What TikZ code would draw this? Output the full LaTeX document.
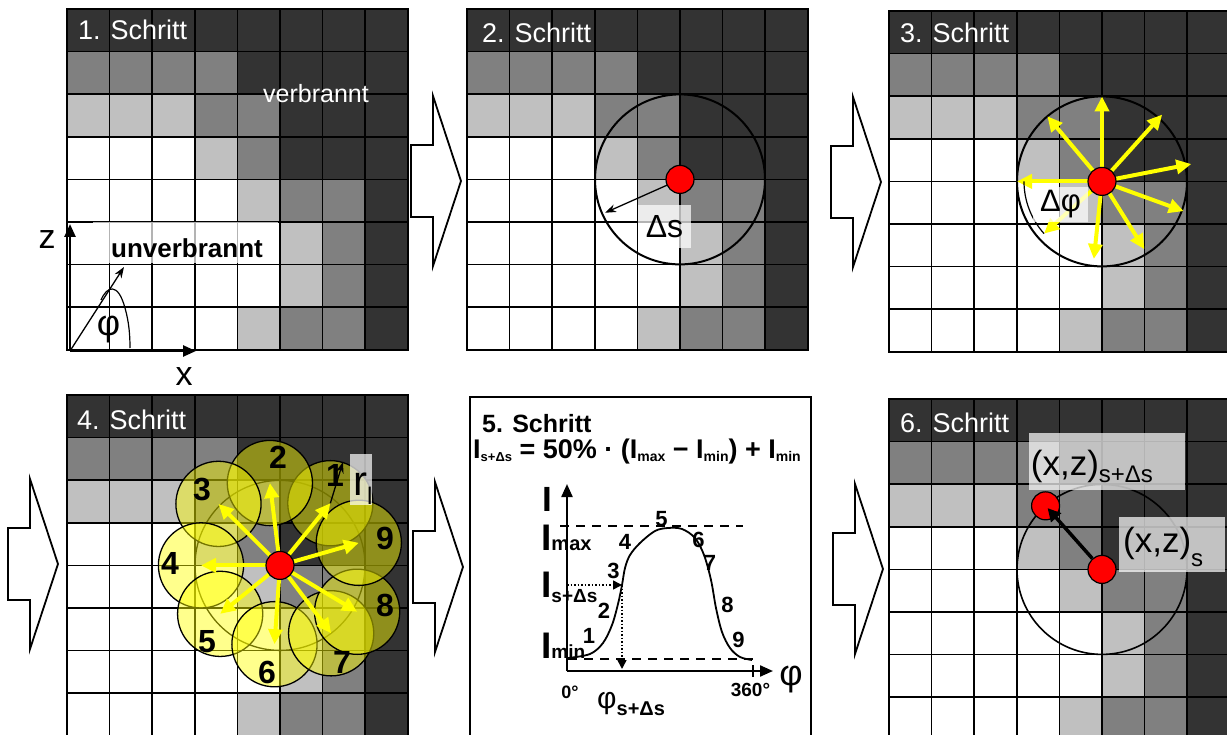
\documentclass[tikz,border=0pt]{standalone}
\usepackage{fontspec}
\setmainfont{Liberation Sans}
\usetikzlibrary{arrows.meta}

\definecolor{dunkel}{HTML}{333333}
\definecolor{mittel}{HTML}{808080}
\definecolor{hell}{HTML}{C0C0C0}
\definecolor{weiss}{HTML}{FFFFFF}
\definecolor{gelb}{HTML}{FFFF00}
\definecolor{rot}{HTML}{FF0000}

\newcommand{\schrift}[1]{\fontsize{#1}{#1}\selectfont}
\newcommand{\zelle}{42.6}
% 8x8 Zellen, Ursprung oben links
\newcommand{\gitter}{%
  \foreach \zeile [count=\zeilenr from 0] in {%
      {dunkel,dunkel,dunkel,dunkel,dunkel,dunkel,dunkel,dunkel},
      {mittel,mittel,mittel,mittel,dunkel,dunkel,dunkel,dunkel},
      {hell,hell,hell,mittel,mittel,dunkel,dunkel,dunkel},
      {weiss,weiss,weiss,hell,mittel,dunkel,dunkel,dunkel},
      {weiss,weiss,weiss,weiss,hell,mittel,mittel,dunkel},
      {weiss,weiss,weiss,weiss,weiss,hell,mittel,dunkel},
      {weiss,weiss,weiss,weiss,weiss,hell,mittel,dunkel},
      {weiss,weiss,weiss,weiss,hell,mittel,mittel,dunkel}}
    \foreach \farbe [count=\spaltenr from 0] in \zeile
      \fill[\farbe] (\spaltenr*\zelle,\zeilenr*\zelle) rectangle ++(\zelle,\zelle);
  \foreach \i in {0,...,8} {
    \draw[gitterlinie] (\i*\zelle,0) -- (\i*\zelle,8*\zelle);
    \draw[gitterlinie] (0,\i*\zelle) -- (8*\zelle,\i*\zelle);
  }%
}

\tikzset{
  gitterlinie/.style = {line width=1.6pt, line cap=rect, black},
  kreis/.style       = {line width=2pt, black},
  punkt/.style       = {circle, fill=rot, draw=black, line width=1.2pt,
                        minimum size=28pt, inner sep=0pt},
  gelbpfeil/.style   = {-{Triangle[length=15pt,width=14pt]}, draw=gelb, line width=4pt},
  duennpfeil/.style  = {-{Stealth[length=11pt,width=8pt]}, line width=1.3pt},
  dickpfeil/.style   = {-{Triangle[length=13pt,width=13pt]}, line width=3.5pt},
  achse/.style       = {-{Triangle[length=13pt,width=11pt]}, line width=2.5pt},
  duenn/.style       = {line width=1.2pt},
  kleinkreis/.style  = {fill=gelb, fill opacity=0.45, draw=black, line width=1.3pt},
  pfeilrand/.style   = {draw=black, fill=white, line width=1.8pt, line join=miter},
  titel/.style       = {white, font=\schrift{27}, inner sep=0pt, anchor=base west},
  schleier/.style    = {fill=white, fill opacity=0.7, text opacity=1, inner sep=0pt},
  zahl/.style        = {font=\schrift{32}\bfseries, inner sep=0pt},
  zahlfuenf/.style   = {font=\schrift{22}\bfseries, inner sep=0pt},
  strichlinie/.style = {line width=1.5pt, dash pattern=on 9pt off 7pt},
  punktpfeil/.style  = {-{Triangle[length=9pt,width=9pt]}, line width=1.5pt,
                        dash pattern=on 1.5pt off 2pt},
  blockpfeil/.pic    = {\draw[pfeilrand] (0,-36) -- (22,-36) -- (22,-85) -- (50,0)
                        -- (22,85) -- (22,36) -- (0,36) -- cycle;}
}

\begin{document}
\begin{tikzpicture}[x=1pt, y=-1pt]
  \useasboundingbox (0,0) rectangle (1227,735);
  \clip (0,0) rectangle (1227,735);
  \fill[white] (0,0) rectangle (1227,735);

  % Pfeile zwischen den Schritten
  \pic (pfeilA) at (411,181) {blockpfeil};
  \pic (pfeilB) at (831,182) {blockpfeil};
  \pic (pfeilC) at (8,564) {blockpfeil};
  \pic (pfeilD) at (413,567) {blockpfeil};
  \pic (pfeilE) at (833,569) {blockpfeil};

  % 1. Schritt
  \begin{scope}[shift={(67,9)}]
    \gitter
  \end{scope}
  \node[titel] (titel1) at (78,40) {1. Schritt};
  \node[anchor=base west, white, inner sep=0pt, font=\schrift{25}] (verbrannt) at (263,103) {verbrannt};
  \node[schleier, minimum width=185pt, minimum height=41pt] (schleier1) at (185.5,242.5) {};
  \node[font=\schrift{26}\bfseries, inner sep=0pt] (unverbrannt) at (187,248.5) {unverbrannt};
  \coordinate (ursprung) at (70,351);
  \coordinate (zspitze) at (70,224);
  \coordinate (xspitze) at (196,351);
  \coordinate (richtung) at (124,267);
  \draw[achse] (ursprung) -- (zspitze);
  \draw[achse] (ursprung) -- (xspitze);
  \draw[duennpfeil] (ursprung) -- (richtung);
  \draw[duenn] (101,300) .. controls (107,286) and (118,282) .. (125,308)
               .. controls (129,322) and (130,335) .. (130,348);
  \node[font=\schrift{36}, inner sep=0pt] (phi1) at (108.5,330) {φ};
  \node[font=\schrift{34}, inner sep=0pt] (zlabel) at (47,240) {z};
  \node[font=\schrift{34}, inner sep=0pt] (xlabel) at (184,377) {x};

  % 2. Schritt
  \begin{scope}[shift={(467,9)}]
    \gitter
    \coordinate (m2) at (5*\zelle,4*\zelle);
  \end{scope}
  \node[titel] (titel2) at (482,42.7) {2. Schritt};
  \draw[kreis] (m2) circle[radius=85];
  \draw[duennpfeil] (m2) -- ++(156:82) coordinate (rand2);
  \node[punkt] (p2) at (m2) {};
  \node[schleier, minimum width=53pt, minimum height=43pt, font=\schrift{32}] (ds) at (664.5,226.5) {Δs};

  % 3. Schritt
  \begin{scope}[shift={(889,11)}]
    \gitter
    \coordinate (m3) at (5*\zelle,4*\zelle);
  \end{scope}
  \node[titel] (titel3) at (900,42.7) {3. Schritt};
  \draw[kreis] (m3) circle[radius=85];
  \foreach \w/\l in {-90/85, -130/85, -48/90, -11/91, 20/87, 58/80, 96/78, 138/78, 180/85}
    \draw[gelbpfeil] (m3) -- ++(\w:\l);
  \draw[duenn] (m3) ++(180:78) arc[start angle=180, end angle=138, radius=78];
  \node[schleier, minimum width=55pt, minimum height=35pt, font=\schrift{31}] (dphi) at (1060.5,204.5) {Δφ};
  \node[punkt] (p3) at (m3) {};

  % 4. Schritt
  \begin{scope}[shift={(67,395)}]
    \gitter
    \coordinate (m4) at (5*\zelle,4*\zelle);
  \end{scope}
  \node[titel] (titel4) at (77,429.3) {4. Schritt};
  \draw[kreis, line width=1.3pt] (m4) circle[radius=85];
  \foreach \n/\w/\d in {1/-51/80, 2/-97/83, 3/-135/87, 4/180/79, 5/141/77,
                        6/94/79, 7/53/85, 8/31/90, 9/-16/82}
    \draw[kleinkreis] (m4) ++(\w:\d) coordinate (k\n) circle[radius=42.6];
  \foreach \n in {1,...,9}
    \draw[gelbpfeil] (m4) -- (k\n);
  \node[punkt] (p4) at (m4) {};
  \foreach \n/\x/\y in {1/335/475, 2/278/457, 3/202/490, 4/170/563, 5/207/642,
                        6/267/672, 7/342/662, 8/385/605, 9/385/538}
    \node[zahl] (n\n) at (\x,\y) {\n};
  \draw[duennpfeil] (k1) -- ++(-73:43) coordinate (rand4);
  \node[schleier, minimum width=22pt, minimum height=51pt] (rlbox) at (361,479.5) {};
  \node[anchor=base west, inner sep=0pt] (rl) at (353,495) {\schrift{42}r\raisebox{-9pt}{\schrift{24}l}};

  % 5. Schritt
  \draw[line width=1.5pt] (470,397) rectangle (811,745);
  \node[anchor=base west, inner sep=0pt, font=\schrift{25}\bfseries] (titel5) at (482,432) {5. Schritt};
  \node[anchor=base west, inner sep=0pt, font=\schrift{27}\bfseries] (formel) at (473,458)
       {I\raisebox{-3pt}{\schrift{13}s+Δs} = 50\% · (I\raisebox{-3pt}{\schrift{14}max} − I\raisebox{-3pt}{\schrift{14}min}) + I\raisebox{-3pt}{\schrift{14}min}};
  \coordinate (o5) at (567,671);
  \coordinate (yspitze5) at (567,484);
  \coordinate (xspitze5) at (773,671);
  \draw[strichlinie] (560,526) -- (743,526);
  \draw[strichlinie] (568,659) -- (753,659);
  \draw[achse, line width=2.2pt] (o5) -- (yspitze5);
  \draw[achse, line width=2.2pt] (o5) -- (xspitze5);
  \draw[line width=2pt] (753,665) -- (753,677);
  \draw[line width=1.8pt] plot[smooth, tension=0.55] coordinates {
      (568,658) (590,654) (603,643) (612,625) (618,604) (622,585) (625,568)
      (630,555) (640,543) (655,531) (668,528) (682,529) (695,538) (704,555)
      (711,580) (716,608) (722,632) (730,648) (740,657) (752,660)};
  \coordinate (is5) at (567,585);
  \coordinate (kp5) at (622,585);
  \coordinate (phis5) at (622,669);
  \draw[punktpfeil] (is5) -- (kp5);
  \draw[punktpfeil] (kp5) -- (phis5);
  \node[font=\schrift{35}\bfseries, inner sep=0pt] (iachse) at (547.5,499.5) {I};
  \node[anchor=base west, inner sep=0pt] (imax) at (541,550) {\schrift{37}\bfseries I\schrift{20}max};
  \node[anchor=base west, inner sep=0pt] (isds) at (541,597) {\schrift{37}\bfseries I\raisebox{-5pt}{\schrift{19}s+Δs}};
  \node[anchor=base west, inner sep=0pt] (imin) at (541,658) {\schrift{37}\bfseries I\schrift{19}min};
  \foreach \n/\x/\y in {1/589/636, 2/604/611, 3/613.5/571, 4/625/542, 5/661.5/519,
                        6/698.5/539.5, 7/710/563, 8/727.5/605, 9/738.5/640}
    \node[zahlfuenf] (z\n) at (\x,\y) {\n};
  \node[font=\schrift{18}\bfseries, inner sep=0pt] (null) at (570,692) {0°};
  \node[font=\schrift{19}\bfseries, inner sep=0pt] (dreisechzig) at (750.5,690) {360°};
  \node[anchor=base west, inner sep=0pt] (phisds) at (597,708) {\schrift{30}φ\raisebox{-7pt}{\schrift{20}\bfseries s+Δs}};
  \node[font=\schrift{36}, inner sep=0pt] (phiachse) at (791,680) {φ};

  % 6. Schritt
  \begin{scope}[shift={(889,399)}]
    \gitter
    \coordinate (m6) at (5*\zelle,4*\zelle);
  \end{scope}
  \node[titel] (titel6) at (900,432.7) {6. Schritt};
  \draw[kreis, line width=1.6pt] (m6) circle[radius=85];
  \node[punkt] (p6) at (m6) {};
  \path (m6) ++(-131.6:85) node[punkt] (q6) {};
  \draw[dickpfeil, shorten >=3pt] (p6) -- (q6.center);
  \node[schleier, minimum width=156pt, minimum height=57pt] (xzbox1) at (1107,461.5) {};
  \node[anchor=base west, inner sep=0pt] (xzneu) at (1030.7,475)
       {\schrift{35}(x,z)\raisebox{-7pt}{\schrift{24}s+Δs}};
  \node[schleier, minimum width=106pt, minimum height=55pt] (xzbox2) at (1172,544.5) {};
  \node[anchor=base west, inner sep=0pt] (xzalt) at (1123,552)
       {\schrift{35}(x,z)\raisebox{-14pt}{\schrift{24}s}};
\end{tikzpicture}
\end{document}
